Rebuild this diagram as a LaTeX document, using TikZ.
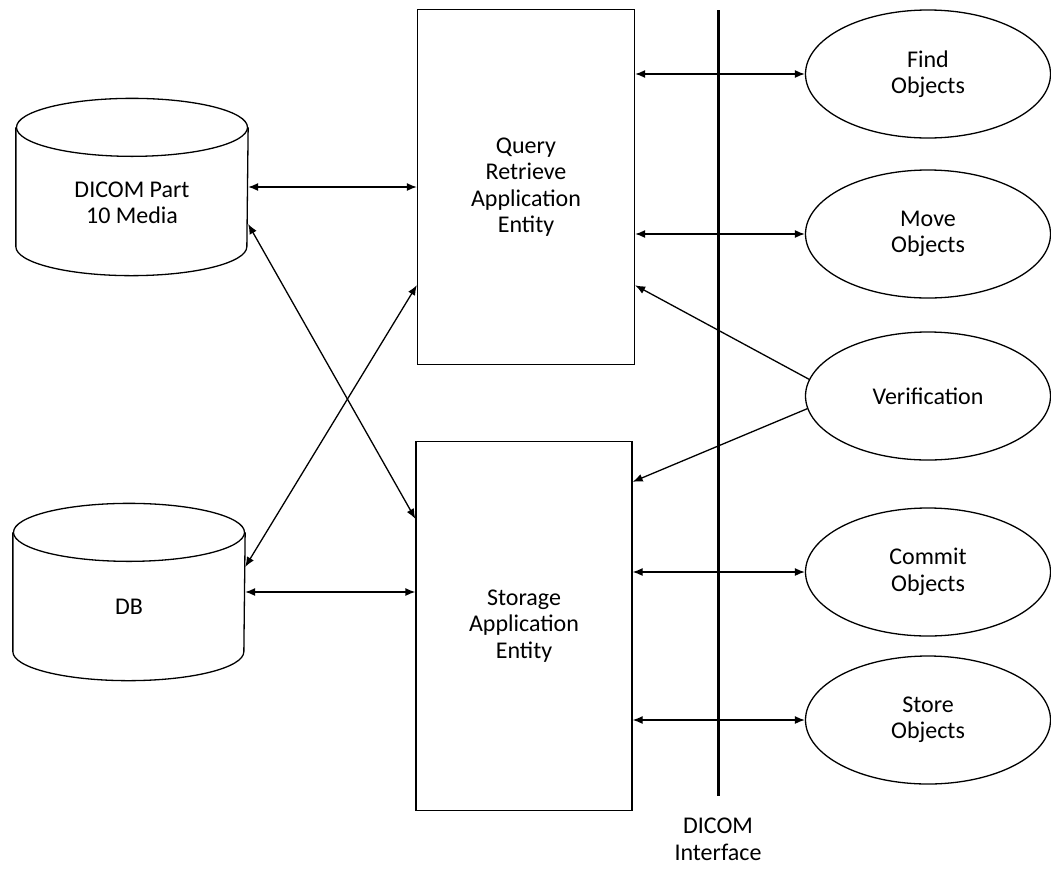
\documentclass[tikz,border=0pt]{standalone}
\usepackage{fontspec}
\setmainfont{Carlito}
\usepackage{tikz}
\usetikzlibrary{positioning,shapes,arrows.meta}
\tikzstyle{dbs}=[%
      rectangle, draw=none, minimum width=231pt, minimum height=176pt,
      inner sep=0pt, align=center
]
\tikzstyle{ae}=[%
      rectangle, draw=black, line width=1.3pt, minimum width=217pt,
      inner sep=0pt, align=center
]
\tikzstyle{svc}=[%
      ellipse, draw=black, line width=1.3pt, minimum width=245pt,
      minimum height=128pt, inner sep=0pt, align=center
]
% cylinder outline round a dbs node
\newcommand{\drawdrum}[1]{%
  \draw ([yshift=-29pt]#1.north) ellipse [x radius=115.5pt, y radius=29pt];
  \draw ([yshift=-29pt]#1.north west) -- ([yshift=29pt]#1.south west)
        arc [start angle=180, end angle=360, x radius=115.5pt, y radius=29pt]
        -- ([yshift=-29pt]#1.north east);
}

\begin{document}
\begin{tikzpicture}[x=1pt, y=-1pt,
    font=\fontsize{24}{26.5}\selectfont,
    >={Latex[length=10pt,width=8pt]}, line width=1.3pt
  ]
    \useasboundingbox (0,0) rectangle (1051,873);
    % storage media
    \node[dbs] (media) at (132,187) {};
    \drawdrum{media}
    \node[align=center] (medialbl) at (132,203) {DICOM Part\\10 Media};
    \node[dbs] (db) at (129,592) {};
    \drawdrum{db}
    \node (dblbl) at (129,607) {DB};
    % application entities
    \node[ae, minimum height=355pt] (qr) at (526,187) {Query\\Retrieve\\Application\\Entity};
    \node[ae, minimum height=369pt, minimum width=216pt] (sto) at (524,626) {Storage\\Application\\Entity};
    % DICOM interface
    \coordinate (itop) at (718,10);
    \coordinate (ibot) at (718,796);
    \draw[line width=3pt] (itop) -- (ibot);
    \node[align=center] (iface) [below = 18pt of ibot] {DICOM\\Interface};
    % services
    \node[svc] (find) at (928,74) {Find\\Objects};
    \node[svc] (move) at (928,234) {Move\\Objects};
    \node[svc] (verif) at (928,396) {Verification};
    \node[svc] (commit) at (928,572) {Commit\\Objects};
    \node[svc] (storeobj) at (928,720) {Store\\Objects};

    \draw[<->] (media.east) -- (media.east -| qr.west);
    \draw[<->] (db.east) -- (db.east -| sto.west);
    \draw[<->] ([yshift=-37pt]media.east) -- ([yshift=-78pt]sto.north west);
    \draw[<->] ([yshift=25pt]db.east) -- ([yshift=80pt]qr.south west);
    \draw[<->] (find.west -| qr.east) -- (find.west);
    \draw[<->] (move.west -| qr.east) -- (move.west);
    \draw[<->] (commit.west -| sto.east) -- (commit.west);
    \draw[<->] (storeobj.west -| sto.east) -- (storeobj.west);
    \draw[->] (verif.172) -- (qr.-42);
    \draw[->] (verif.186) -- (sto.53);
  \end{tikzpicture}
\end{document}
